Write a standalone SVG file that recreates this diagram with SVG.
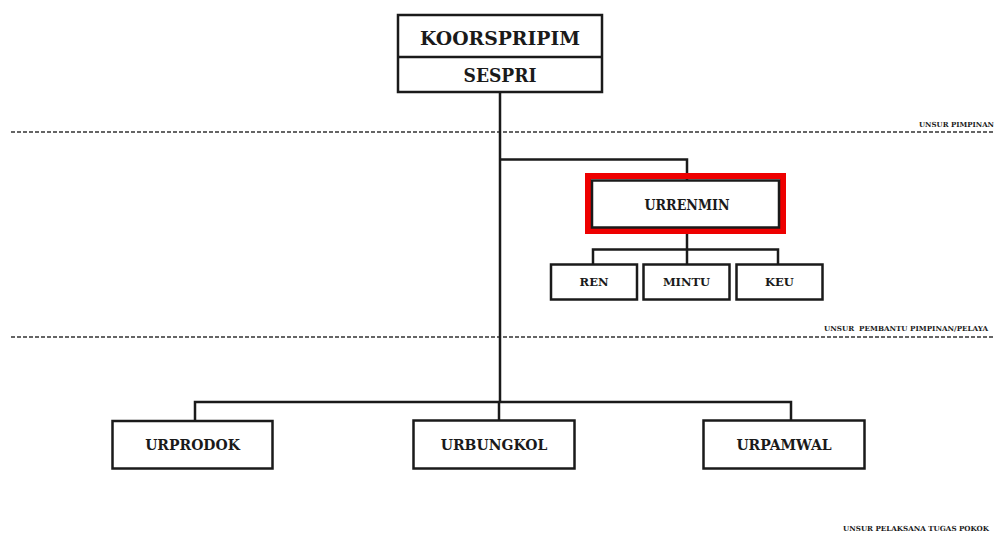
<svg xmlns="http://www.w3.org/2000/svg" width="995" height="535" viewBox="0 0 995 535">
  <style>
    .box { fill: #ffffff; stroke: #1a1a1a; stroke-width: 2.5; }
    .lbl { font-family: "DejaVu Serif", "Liberation Serif", serif; font-weight: bold; fill: #1a1a1a; text-anchor: middle; dominant-baseline: central; }
    .big { font-size: 19px; }
    .mid { font-size: 14px; }
    .sm { font-size: 11.5px; }
    .tiny { font-family: "DejaVu Serif", "Liberation Serif", serif; font-weight: bold; font-size: 7px; fill: #1a1a1a; }
    .link { fill: none; stroke: #1a1a1a; stroke-width: 2.5; }
    .sep { stroke: #333333; stroke-width: 1.5; stroke-dasharray: 4 2; }
  </style>
  <rect width="995" height="535" fill="#ffffff"/>

  <!-- level separators and their captions -->
  <g id="separators">
    <line class="sep" x1="11" y1="132" x2="995" y2="132"/>
    <line class="sep" x1="11" y1="337" x2="995" y2="337"/>
    <text class="tiny" x="919" y="127">UNSUR PIMPINAN</text>
    <text class="tiny" x="824" y="331" textLength="164" lengthAdjust="spacingAndGlyphs" xml:space="preserve">UNSUR  PEMBANTU PIMPINAN/PELAYA</text>
    <text class="tiny" x="843" y="531" textLength="146" lengthAdjust="spacingAndGlyphs">UNSUR PELAKSANA TUGAS POKOK</text>
  </g>

  <!-- connectors -->
  <g id="connectors">
    <line class="link" x1="500" y1="92" x2="500" y2="402"/>
    <polyline class="link" points="500,159.5 687,159.5 687,180"/>
    <line class="link" x1="687" y1="228" x2="687" y2="264"/>
    <polyline class="link" points="593,264 593,249.5 778,249.5 778,264"/>
    <polyline class="link" points="195,420 195,402 791,402 791,420"/>
    <line class="link" x1="499" y1="402" x2="499" y2="420"/>
  </g>

  <g id="koorspripim">
    <rect class="box" x="398" y="15" width="204" height="77"/>
    <line class="link" x1="398" y1="57" x2="602" y2="57"/>
    <text class="lbl big" x="500" y="38" textLength="160" lengthAdjust="spacingAndGlyphs">KOORSPRIPIM</text>
    <text class="lbl big" x="500" y="75" textLength="73" lengthAdjust="spacingAndGlyphs">SESPRI</text>
  </g>

  <g id="urrenmin">
    <rect x="588" y="176" width="195" height="55" fill="none" stroke="#ee0000" stroke-width="6"/>
    <rect class="box" x="592" y="180.5" width="187" height="47"/>
    <text class="lbl mid" x="687" y="205" textLength="85" lengthAdjust="spacingAndGlyphs">URRENMIN</text>
  </g>

  <g id="ren">
    <rect class="box" x="551" y="264.5" width="86" height="35"/>
    <text class="lbl sm" x="594" y="282">REN</text>
  </g>
  <g id="mintu">
    <rect class="box" x="643.5" y="264.5" width="86" height="35"/>
    <text class="lbl sm" x="686.5" y="282">MINTU</text>
  </g>
  <g id="keu">
    <rect class="box" x="736.5" y="264.5" width="86" height="35"/>
    <text class="lbl sm" x="779.5" y="282">KEU</text>
  </g>

  <g id="urprodok">
    <rect class="box" x="112.5" y="421" width="160" height="47.5"/>
    <text class="lbl mid" x="192.5" y="445">URPRODOK</text>
  </g>
  <g id="urbungkol">
    <rect class="box" x="413.5" y="420.5" width="161" height="48"/>
    <text class="lbl mid" x="494" y="445">URBUNGKOL</text>
  </g>
  <g id="urpamwal">
    <rect class="box" x="703.5" y="420.5" width="161" height="48"/>
    <text class="lbl mid" x="784" y="445">URPAMWAL</text>
  </g>
</svg>
